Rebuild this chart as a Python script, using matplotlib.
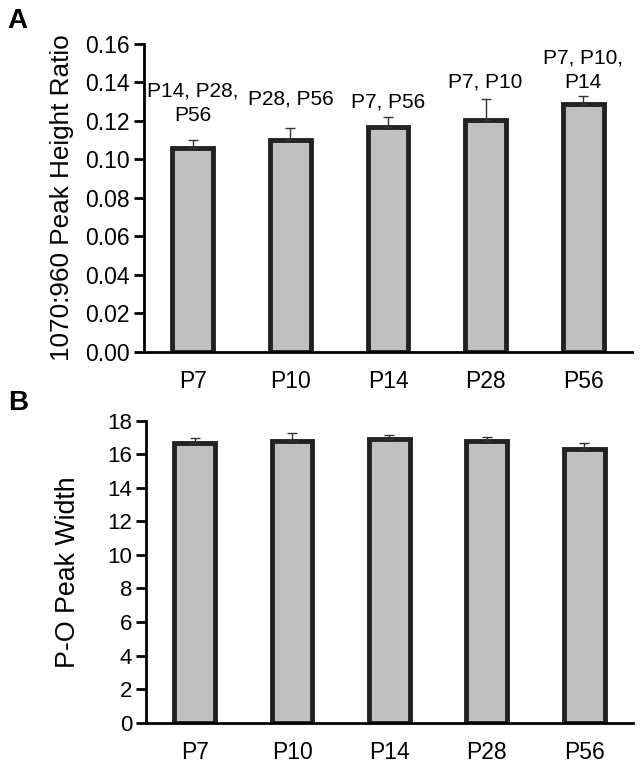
import matplotlib
matplotlib.use("Agg")
import matplotlib.pyplot as plt

plt.rcParams['font.family'] = ['Liberation Sans', 'DejaVu Sans']

categories = ["P7", "P10", "P14", "P28", "P56"]

ratio_values = [0.1058, 0.1100, 0.1167, 0.1205, 0.1288]
ratio_errors = [0.0042, 0.0062, 0.0052, 0.0107, 0.0042]
sig_labels = ["P14, P28,\nP56", "P28, P56", "P7, P56", "P7, P10", "P7, P10,\nP14"]

width_values = [16.69, 16.79, 16.89, 16.79, 16.29]
width_errors = [0.26, 0.46, 0.26, 0.22, 0.36]

# layout-only: vertical gap (points) between error-bar top and label
label_pad = [11, 14, 4, 6, 3]

fig = plt.figure(figsize=(6.4, 7.65), dpi=100)
axA = fig.add_axes([0.225, 0.540, 0.7625, 0.4025])
axB = fig.add_axes([0.228, 0.0553, 0.761, 0.3947])

bar_kw = dict(width=0.42, color="#c0c0c0", edgecolor="#222222", linewidth=3.5, zorder=2)
err_kw = dict(ecolor="#333333", elinewidth=1.0, capsize=3.5, capthick=1.0)

x = list(range(len(categories)))

def style(ax, ylab_size):
    for s in ["top", "right"]:
        ax.spines[s].set_visible(False)
    ax.spines["left"].set_linewidth(2)
    ax.spines["bottom"].set_linewidth(2)
    ax.tick_params(axis="y", direction="out", length=7, width=2, labelsize=ylab_size, pad=3)
    ax.tick_params(axis="x", length=0, labelsize=16.5, pad=13)
    ax.set_xlim(-0.5, 4.5)
    ax.set_xticks(x)
    ax.set_xticklabels(categories)

# Panel A
axA.bar(x, ratio_values, yerr=[[0]*5, ratio_errors], error_kw=err_kw, **bar_kw)
style(axA, 16.5)
axA.set_ylim(0, 0.16)
axA.set_yticks([0.00, 0.02, 0.04, 0.06, 0.08, 0.10, 0.12, 0.14, 0.16])
axA.set_yticklabels([f"{v:.2f}" for v in axA.get_yticks()])
axA.set_ylabel("1070:960 Peak Height Ratio", fontsize=18.8, labelpad=8)
for xi, v, e, lab, pad in zip(x, ratio_values, ratio_errors, sig_labels, label_pad):
    axA.annotate(lab, (xi, v + e), xytext=(0, pad), textcoords="offset points",
                 ha="center", va="bottom", fontsize=15, linespacing=1.35)

# Panel B
axB.bar(x, width_values, yerr=[[0]*5, width_errors], error_kw=err_kw, **bar_kw)
style(axB, 16)
axB.set_ylim(0, 18)
axB.set_yticks(range(0, 19, 2))
axB.set_ylabel("P-O Peak Width", fontsize=19.3, labelpad=19)

fig.text(0.012, 0.990, "A", fontsize=20, fontweight="bold", va="top", ha="left")
fig.text(0.012, 0.490, "B", fontsize=20, fontweight="bold", va="top", ha="left")

fig.savefig("out.png", dpi=100)
